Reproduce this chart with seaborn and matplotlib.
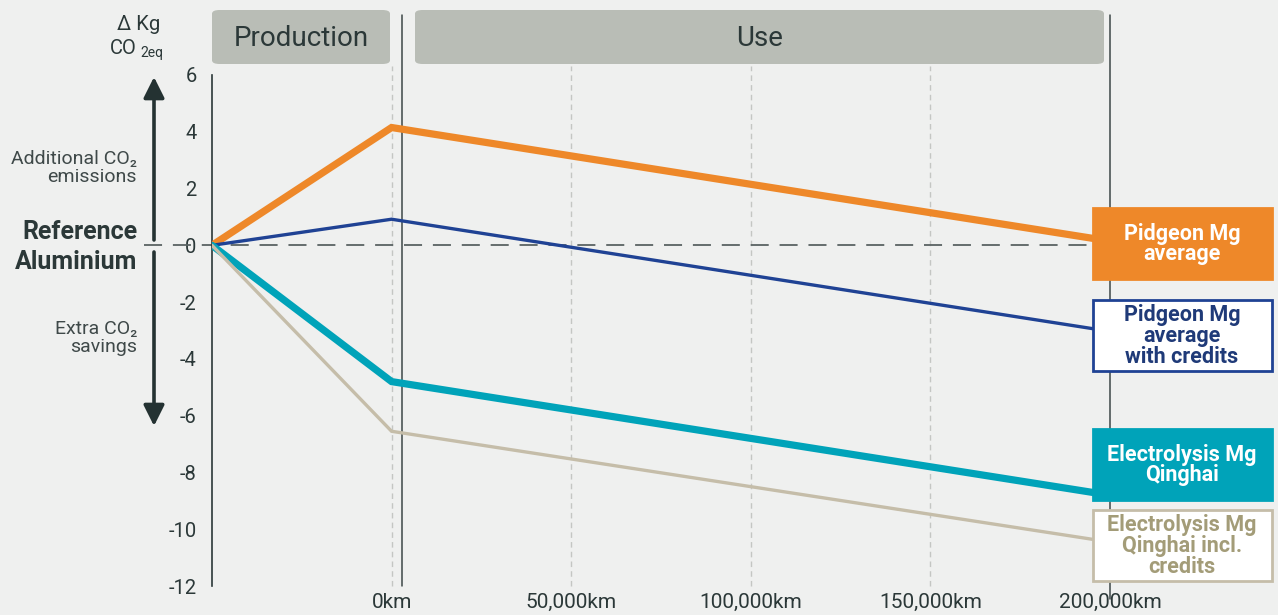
import matplotlib
matplotlib.use("Agg")
import matplotlib.pyplot as plt
import pandas as pd
import seaborn as sns
from matplotlib.patches import FancyBboxPatch, Rectangle, FancyArrowPatch

# Distance stages in km; the production phase occupies one tick interval before 0 km
stage_km = [-50000, 0, 200000]

pidgeon_avg = [0.0, 4.15, 0.15]
pidgeon_credits = [0.0, 0.92, -3.03]
electrolysis_qinghai = [0.0, -4.8, -8.8]
electrolysis_qinghai_credits = [0.0, -6.55, -10.45]

series_labels = [
    "Pidgeon Mg\naverage",
    "Pidgeon Mg\naverage\nwith credits",
    "Electrolysis Mg\nQinghai",
    "Electrolysis Mg\nQinghai incl.\ncredits",
]
km_ticks = [0, 50000, 100000, 150000, 200000]
km_labels = ["0km", "50,000km", "100,000km", "150,000km", "200,000km"]
y_ticks = [6, 4, 2, 0, -2, -4, -6, -8, -10, -12]
phase_labels = ["Production", "Use"]

# styling
BG = "#eff0ef"
INK = "#2b3838"
PHASE_BG = "#b9bdb6"
colors = ["#ee8829", "#1f4294", "#00a3b9", "#c5bda9"]
widths = [5.2, 2.4, 5.2, 2.4]
box_fill = ["#ee8829", "white", "#00a3b9", "white"]
box_text = ["white", "#1f3a78", "white", "#a39c78"]

W, H = 1278, 615
sns.set_theme(style="white")
plt.rcParams["font.family"] = ["Roboto", "DejaVu Sans"]
plt.rcParams["text.color"] = INK

fig = plt.figure(figsize=(W / 100, H / 100), dpi=100, facecolor=BG)


def fx(px):
    return px / W


def fy(py):
    return 1 - py / H


ax = fig.add_axes([fx(212), fy(586), fx(1278) - fx(212), fy(75) - fy(586)])
ax.set_facecolor(BG)
ax.set_xlim(-50000, 246800)
ax.set_ylim(-12, 6)

df = pd.DataFrame({
    "km": stage_km * 4,
    "delta": pidgeon_avg + pidgeon_credits + electrolysis_qinghai + electrolysis_qinghai_credits,
    "series": sum([[s] * 3 for s in series_labels], []),
})

# vertical guides
for k in km_ticks[:-1]:
    ax.plot([k, k], [-12, 6.3], color="#c4c6c3", lw=1.0, ls=(0, (4, 3)), clip_on=False, zorder=1)
ax.plot([2800, 2800], [-12, 8.1], color="#3d4747", lw=1.1, clip_on=False, zorder=2)
ax.plot([200000, 200000], [-12.45, 8.1], color="#3d4747", lw=1.1, clip_on=False, zorder=2)

# reference line
ax.plot([-69000, 200000], [0, 0], color="#5a6363", lw=1.3, ls=(0, (10, 6)), clip_on=False, zorder=2)

for name, c, lw in zip(series_labels, colors, widths):
    sub = df[df["series"] == name]
    sns.lineplot(data=sub, x="km", y="delta", color=c, linewidth=lw, ax=ax,
                 legend=False, zorder=3, solid_joinstyle="miter")

# axes styling
for side in ["top", "right", "bottom"]:
    ax.spines[side].set_visible(False)
ax.spines["left"].set_color(INK)
ax.spines["left"].set_linewidth(1.2)
ax.set_yticks(y_ticks)
ax.set_yticklabels([str(v) for v in y_ticks])
ax.tick_params(axis="y", length=6, width=1.0, color=INK, pad=5, labelsize=14.5, labelcolor=INK)
ax.set_xticks(km_ticks)
ax.set_xticklabels(km_labels)
ax.tick_params(axis="x", length=0, pad=5, labelsize=15, labelcolor=INK)
ax.set_xlabel("")
ax.set_ylabel("")

# phase headers
phase_boxes = [(212, 390), (415, 1104)]
for (x0, x1), lab in zip(phase_boxes, phase_labels):
    p = FancyBboxPatch((fx(x0), fy(64)), fx(x1) - fx(x0), fy(10) - fy(64),
                       boxstyle="round,pad=0,rounding_size=0.006",
                       transform=fig.transFigure, facecolor=PHASE_BG, edgecolor="none")
    fig.patches.append(p)
    fig.text(fx((x0 + x1) / 2), fy(38), lab, ha="center", va="center", fontsize=20, color=INK)

# series boxes on the right
box_tops = [208, 300, 429, 510]
for lab, top, fc, ec, tc in zip(series_labels, box_tops, box_fill, colors, box_text):
    r = Rectangle((fx(1093), fy(top + 71)), fx(1272) - fx(1093), fy(top) - fy(top + 71),
                  transform=fig.transFigure, facecolor=fc, edgecolor=ec, linewidth=2.0)
    fig.patches.append(r)
    fig.text(fx(1182), fy(top + 36), lab, ha="center", va="center", fontsize=15.5,
             fontweight="bold", color=tc, linespacing=0.92)

# y-axis caption
fig.text(fx(160), fy(24), "Δ Kg", ha="right", va="center", fontsize=14.5, color=INK)
fig.text(fx(137), fy(48), "CO", ha="right", va="center", fontsize=14.5, color=INK)
fig.text(fx(140), fy(53), "2eq", ha="left", va="center", fontsize=10, color=INK)

# direction arrows
arrow_kw = dict(arrowstyle="-|>,head_length=0.9,head_width=0.45", color="#243232", lw=2.6)
fig.add_artist(FancyArrowPatch((fx(154), fy(240)), (fx(154), fy(77)),
                               transform=fig.transFigure, mutation_scale=14,
                               shrinkA=0, shrinkB=0, **arrow_kw))
fig.add_artist(FancyArrowPatch((fx(154), fy(252)), (fx(154), fy(426)),
                               transform=fig.transFigure, mutation_scale=14,
                               shrinkA=0, shrinkB=0, **arrow_kw))

fig.text(fx(137), fy(168), "Additional CO₂\nemissions", ha="right", va="center",
         fontsize=14, color="#3f4949", linespacing=1.0)
fig.text(fx(137), fy(247), "Reference\nAluminium", ha="right", va="center",
         fontsize=18, fontweight="bold", color=INK, linespacing=1.35)
fig.text(fx(137), fy(338), "Extra CO₂\nsavings", ha="right", va="center",
         fontsize=14, color="#3f4949", linespacing=1.0)

fig.savefig("out.png", dpi=100, facecolor=BG)
